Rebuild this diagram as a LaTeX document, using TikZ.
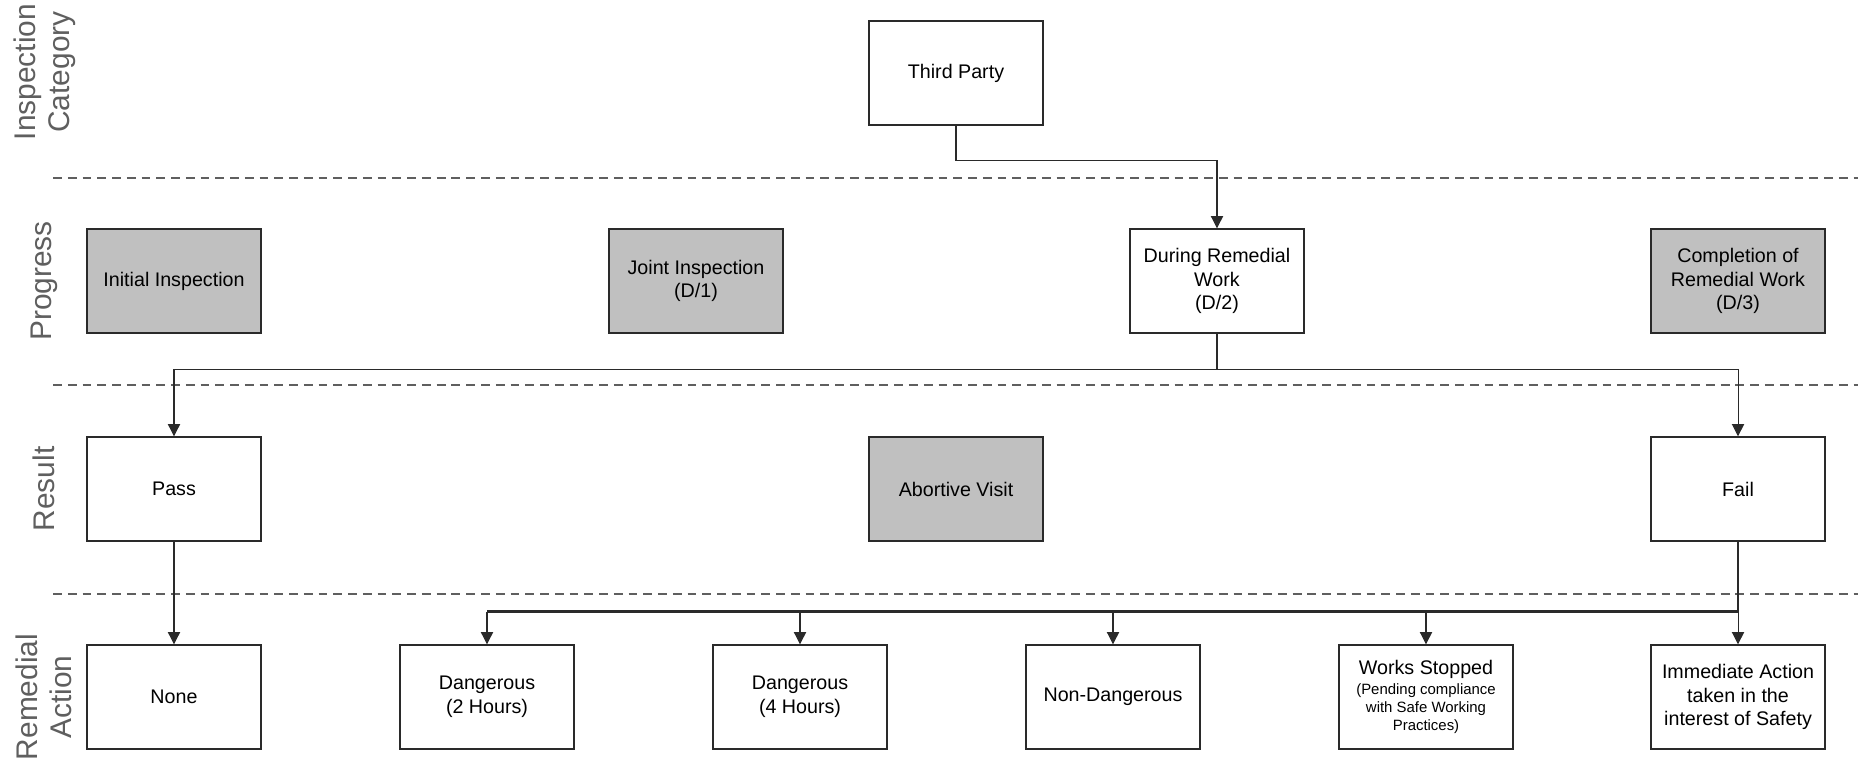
\documentclass[tikz,border=0pt]{standalone}
\usepackage{fontspec}
\setmainfont{Liberation Sans}
\usetikzlibrary{arrows.meta}
\definecolor{boxgrey}{HTML}{C0C0C0}
\definecolor{lanegrey}{HTML}{5F5F5F}
\definecolor{edge}{HTML}{2A2A2A}
\newcommand{\notesize}{\fontsize{8.5}{10}\selectfont}
\tikzset{
  box/.style={draw=edge,line width=0.8pt,minimum width=3.48cm,minimum height=2.08cm,align=center,inner sep=2pt,font=\fontsize{11.2}{13.4}\selectfont},
  greybox/.style={box,fill=boxgrey},
  conn/.style={-{Triangle[length=7pt,width=7pt]},edge,line width=0.6pt},
  trunk/.style={edge,line width=1.4pt},
  lane/.style={lanegrey,dash pattern=on 5pt off 3.4pt,line width=0.6pt},
  lanelabel/.style={lanegrey,rotate=90,align=center,font=\fontsize{17}{19.6}\selectfont},
}
\begin{document}
\begin{tikzpicture}[x=0.02cm,y=-0.02cm]
  \useasboundingbox (0,0) rectangle (1858,759);
  % --- swimlane separators and captions ---
  \draw[lane] (53,178) -- (1858,178);
  \draw[lane] (53,385) -- (1858,385);
  \draw[lane] (53,594) -- (1858,594);
  \node[lanelabel] (lcat) at (45,72) {Inspection\\Category};
  \node[lanelabel] (lprog) at (44,281) {Progress};
  \node[lanelabel] (lres) at (44,489) {Result};
  \node[lanelabel] (lact) at (44,697) {Remedial\\Action};
  % --- inspection category ---
  \node[box] (third) at (956,73) {Third Party};
  % --- progress ---
  \node[greybox] (initial) at (174,281) {Initial Inspection};
  \node[greybox] (joint) at (696,281) {Joint Inspection\\(D/1)};
  \node[box] (during) at (1217,281) {During Remedial\\Work\\(D/2)};
  \node[greybox] (complete) at (1738,281) {Completion of\\Remedial Work\\(D/3)};
  % --- result ---
  \node[box] (pass) at (174,489) {Pass};
  \node[greybox] (abortive) at (956,489) {Abortive Visit};
  \node[box] (fail) at (1738,489) {Fail};
  % --- remedial action ---
  \node[box] (none) at (174,697) {None};
  \node[box] (dtwo) at (487,697) {Dangerous\\(2 Hours)};
  \node[box] (dfour) at (800,697) {Dangerous\\(4 Hours)};
  \node[box] (nond) at (1113,697) {Non-Dangerous};
  \node[box] (stop) at (1426,697) {Works Stopped\\[-2pt]\notesize(Pending compliance\\[-3.3pt]\notesize with Safe Working\\[-3.3pt]\notesize Practices)};
  \node[box] (immed) at (1738,697) {Immediate Action\\taken in the\\interest of Safety};
  % --- connectors ---
  \draw[conn] (third.south) -- ++(0,35) -| (during.north);
  \path (during.south) ++(0,36) coordinate (split);
  \draw[edge,line width=0.6pt] (during.south) -- (split);
  \draw[conn] (split) -| (pass.north);
  \draw[conn] (split) -| (fail.north);
  \draw[conn] (pass) -- (none);
  \path (fail.south) ++(0,70) coordinate (fork);
  \draw[trunk] (fail.south) -- (fork) -- (fork -| dtwo.north);
  \foreach \n in {dtwo,dfour,nond,stop,immed}
    \draw[conn] (fork -| \n.north) -- (\n.north);
\end{tikzpicture}
\end{document}
